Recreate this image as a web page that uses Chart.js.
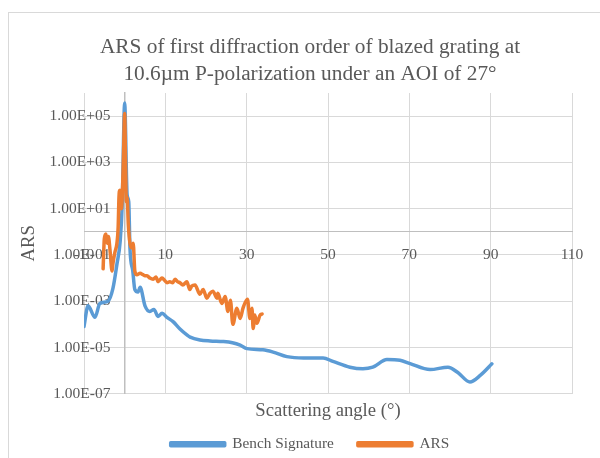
<!DOCTYPE html>
<html>
<head>
<meta charset="utf-8">
<script src="https://cdn.jsdelivr.net/npm/chart.js@4.4.0/dist/chart.umd.min.js"></script>
<style>
  body { margin: 0; overflow: hidden; background: #fff; }
  #frame { position: absolute; left: 8px; top: 12px; width: 620px; height: 470px; border: 1px solid #d9d9d9; }
  canvas { position: absolute; left: 0; top: 0; }
</style>
</head>
<body>
<div id="frame"></div>
<canvas id="arsChart" width="600" height="458"></canvas>
<script>
// Bench signature (blue)
const benchX = [-10, -9.0, -7.3, -6.1, -4.1, -2.9, -1.9, -1.1, -0.6, 0, 0.6, 1.0, 1.3, 2.0, 2.5, 3.3, 3.8, 5.0, 6.2, 7.2,
    8.2, 9.2, 10.4, 11.9, 13.6, 15.3, 16.1, 18.5, 21, 24.2, 26.5, 28.4, 30.1, 34, 36.5, 39.9, 44, 48.8, 51.2, 55.4,
    58.6, 61, 64.5, 67.7, 70.2, 75.1, 79.5, 82, 84.9, 87.5, 90.3];
const benchY = [8e-5, 6.3e-4, 2e-4, 8e-4, 1e-3, 3.5e-3, 0.04, 0.4, 16, 3.7e5, 40, 20, 0.2, 0.02, 3.2e-3, 2.5e-3, 4e-3, 6.3e-4, 3.6e-4, 4.4e-4,
    2.2e-4, 3e-4, 2e-4, 1.3e-4, 6.3e-5, 3.5e-5, 2.8e-5, 2.1e-5, 1.9e-5, 1.8e-5, 1.6e-5, 1.26e-5, 8.9e-6, 7.9e-6, 6.3e-6, 4e-6, 3.5e-6, 3.5e-6, 2.5e-6, 1.4e-6,
    1.2e-6, 1.4e-6, 3e-6, 2.8e-6, 2e-6, 1.1e-6, 1.4e-6, 8e-7, 3.2e-7, 6.3e-7, 1.95e-6];

// measured ARS (orange)
const arsX = [-5.3, -5.0, -4.6, -4.3, -4.0, -3.6, -3.1, -2.9, -2.4, -1.9, -1.6, -1.4, -1.2, -0.8, -0.5, -0.3, 0, 0.2, 0.4, 0.6,
    0.9, 1.3, 1.8, 2.1, 2.5, 3.0, 3.8, 4.5, 5.0, 5.5, 6.2, 7.0, 7.7, 8.2, 8.8, 9.2, 9.8, 10.4, 11.1, 11.8,
    12.4, 13.0, 13.6, 14.3, 15.3, 16.0, 16.5, 17.3, 18.5, 19.3, 20.2, 21.0, 21.7, 22.7, 22.9, 23.9, 24.7, 25.4, 26.0, 26.6,
    27.6, 28.4, 29.1, 30.2, 30.8, 31.3, 31.6, 32.0, 32.5, 33.3, 33.8];
const arsY = [0.025, 0.5, 0.8, 0.32, 0.63, 0.16, 0.02, 0.04, 0.13, 0.32, 1.6, 32, 63, 10, 100, 1600, 1.3e5, 1600, 20, 32,
    2, 0.32, 0.2, 0.32, 0.02, 0.014, 0.016, 0.014, 0.0126, 0.0126, 0.01, 0.0089, 0.011, 0.007, 0.0089, 0.01, 0.008, 0.0063, 0.007, 0.0063,
    0.0089, 0.007, 0.0063, 0.005, 0.007, 0.0032, 0.0045, 0.005, 0.002, 0.0032, 0.00135, 0.0022, 0.0027, 0.00135, 0.0022, 0.0008, 0.0016, 0.00036, 0.0011, 0.0001,
    0.0005, 0.00018, 0.0005, 0.0012, 0.00018, 0.0005, 0.000066, 0.00025, 0.00011, 0.00025, 0.00028];

const xTicks = [-10, 10, 30, 50, 70, 90, 110];
const yTicks = [1e-7, 1e-5, 1e-3, 1e-1, 1e1, 1e3, 1e5];

const serif = '"Liberation Serif", "Times New Roman", serif';
const textColor = '#595959';
const gridColor = '#d9d9d9';
const axisColor = '#bfbfbf';

function toPoints(xs, ys) {
    return xs.map((x, i) => ({ x: x, y: ys[i] }));
}

// Excel style 1.00E+05
function sci(v) {
    const parts = v.toExponential(2).split('e');
    const n = parseInt(parts[1]);
    return parts[0].toUpperCase() + 'E' + (n < 0 ? '-' : '+') + String(Math.abs(n)).padStart(2, '0');
}

function useTicks(list) {
    return function (axis) {
        axis.ticks = list.map(v => ({ value: v }));
    };
}

const ctx = document.getElementById('arsChart').getContext('2d');
new Chart(ctx, {
    type: 'line',
    data: {
        datasets: [{
            label: 'Bench Signature',
            data: toPoints(benchX, benchY),
            borderColor: '#5B9BD5',
            backgroundColor: '#5B9BD5',
            borderWidth: 3.5,
            pointRadius: 0,
            cubicInterpolationMode: 'monotone',
            borderCapStyle: 'round',
            borderJoinStyle: 'round',
            order: 1
        }, {
            label: 'ARS',
            data: toPoints(arsX, arsY),
            borderColor: '#ED7D31',
            backgroundColor: '#ED7D31',
            borderWidth: 3.5,
            pointRadius: 0,
            cubicInterpolationMode: 'monotone',
            borderCapStyle: 'round',
            borderJoinStyle: 'round',
            order: 0
        }]
    },
    options: {
        responsive: false,
        animation: false,
        devicePixelRatio: 1,
        layout: { padding: { left: 20, right: 0, top: 21, bottom: -4 } },
        plugins: {
            title: {
                display: true,
                text: ['ARS of first diffraction order of blazed grating at', '10.6\u00b5m P-polarization under an AOI of 27\u00b0'],
                color: textColor,
                font: { family: serif, size: 21.33, weight: 'normal', lineHeight: 1.266 },
                padding: { top: 12.5, bottom: 5.5 }
            },
            legend: {
                position: 'bottom',
                labels: {
                    boxWidth: 54, boxHeight: 3, padding: 24, color: textColor,
                    font: { family: serif, size: 15.3 },
                    sort: (a, b) => a.datasetIndex - b.datasetIndex
                }
            },
            tooltip: { enabled: false }
        },
        scales: {
            x: {
                type: 'linear', min: -10, max: 110,
                afterBuildTicks: useTicks(xTicks),
                ticks: { display: false },
                grid: { color: gridColor, drawTicks: false },
                border: { color: gridColor },
                title: { display: true, text: 'Scattering angle (\u00b0)', color: textColor, font: { family: serif, size: 18.67 }, padding: { top: 0, bottom: -10 } },
                afterFit: s => { s.height = 19; }
            },
            y: {
                type: 'logarithmic', min: 1e-7, max: 1e6,
                afterBuildTicks: useTicks(yTicks),
                ticks: { display: false },
                grid: { color: gridColor, drawTicks: false },
                border: { color: gridColor },
                title: { display: true, text: 'ARS', color: textColor, font: { family: serif, size: 18.67 }, padding: { top: -2, bottom: 4 } },
                afterFit: s => { s.width = 64; }
            },
            // empty space on the right so the title centres on the whole frame
            yRight: {
                axis: 'y', type: 'linear', position: 'right',
                ticks: { display: false },
                grid: { display: false, drawTicks: false },
                border: { display: false },
                afterFit: s => { s.width = 28; }
            },
            // horizontal axis line at y = 1 with its labels
            x2: {
                axis: 'x', type: 'linear', position: { y: 1 }, min: -10, max: 110,
                afterBuildTicks: useTicks(xTicks),
                grid: { display: false, drawTicks: false },
                border: { color: axisColor },
                ticks: { color: textColor, font: { family: serif, size: 15.5 }, padding: 14, maxRotation: 0 }
            },
            // vertical axis line at x = 0
            y3: {
                axis: 'y', type: 'logarithmic', position: { x: 0 }, min: 1e-7, max: 1e6,
                afterBuildTicks: useTicks(yTicks),
                ticks: { display: false },
                grid: { display: false, drawTicks: false },
                border: { color: axisColor, width: 1.5 }
            },
            // y labels sit just left of the x = 0 line
            y2: {
                axis: 'y', type: 'logarithmic', position: { x: -3.5 }, min: 1e-7, max: 1e6,
                afterBuildTicks: useTicks(yTicks),
                grid: { display: false, drawTicks: false },
                border: { display: false },
                ticks: { color: textColor, font: { family: serif, size: 15.5 }, callback: v => sci(v) }
            }
        }
    }
});
</script>
</body>
</html>
